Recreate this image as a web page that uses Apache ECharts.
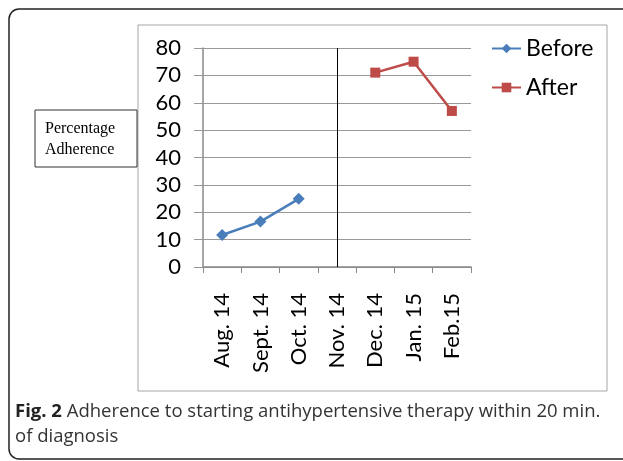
<!DOCTYPE html>
<html>
<head>
<meta charset="utf-8">
<script src="https://cdn.jsdelivr.net/npm/echarts@6/dist/echarts.min.js"></script>
<style>
  html, body { margin: 0; padding: 0; background: #fff; }
  #chart { width: 623px; height: 461px; }
</style>
</head>
<body>
<div id="chart"></div>
<script>
const months = ['Aug. 14', 'Sept. 14', 'Oct. 14', 'Nov. 14', 'Dec. 14', 'Jan. 15', 'Feb.15'];
const before = [11.7, 16.6, 24.9, null, null, null, null];
const after = [null, null, null, null, 71, 75, 57];
const yTicks = [0, 80, 10]; // min, max, step
const dividerMonth = 'Nov. 14';

const chart = echarts.init(document.getElementById('chart'));

const option = {
    animation: false,
    textStyle: { fontFamily: 'Lato, sans-serif' },
    graphic: [
        // outer rounded frame
        { type: 'rect', z: -10, shape: { x: 9, y: 9, width: 700, height: 450, r: 10 },
          style: { fill: 'none', stroke: '#222', lineWidth: 1.5 } },
        // chart area box
        { type: 'rect', z: -9, shape: { x: 138, y: 25, width: 469, height: 366 },
          style: { fill: '#fff', stroke: '#a6a6a6', lineWidth: 1 } },
        // axis title box
        { type: 'rect', shape: { x: 35, y: 110, width: 102, height: 57 },
          style: { fill: '#fff', stroke: '#333', lineWidth: 1 } },
        { type: 'text', left: 45, top: 118,
          style: { text: 'Percentage\nAdherence', font: '16px "Liberation Serif", serif', fill: '#000', lineHeight: 21 } },
        // caption
        { type: 'text', left: 15, top: 399,
          style: {
              text: '{b|Fig. 2} Adherence to starting antihypertensive therapy within 20 min.\nof diagnosis',
              font: '18.5px "Open Sans", sans-serif', fill: '#333', lineHeight: 25,
              rich: { b: { fontWeight: 'bold', fontSize: 18.5, fontFamily: 'Open Sans', fill: '#222' } }
          } }
    ],
    legend: {
        orient: 'vertical',
        left: 486,
        top: 32,
        itemWidth: 29,
        itemHeight: 12,
        itemGap: 16,
        textStyle: { fontSize: 23, color: '#000', fontFamily: 'Lato, sans-serif' },
        data: ['Before', 'After']
    },
    grid: { left: 203, top: 48, right: 152, bottom: 194, containLabel: false },
    xAxis: {
        type: 'category',
        data: months,
        boundaryGap: true,
        axisLine: { lineStyle: { color: '#888', width: 1.5 } },
        axisTick: { show: true, length: 6, interval: 0, lineStyle: { color: '#888' } },
        axisLabel: { interval: 0, rotate: 90, margin: 26, fontSize: 22, color: '#000' }
    },
    yAxis: {
        type: 'value',
        min: yTicks[0],
        max: yTicks[1],
        interval: yTicks[2],
        axisLine: { show: true, lineStyle: { color: '#888', width: 1.5 } },
        axisTick: { show: true, length: 9, lineStyle: { color: '#999' } },
        splitLine: { lineStyle: { color: '#999', width: 1 } },
        axisLabel: { fontSize: 22, color: '#000', margin: 22 }
    },
    series: [
        {
            name: 'Before',
            type: 'line',
            data: before,
            symbol: 'diamond',
            symbolSize: 12,
            itemStyle: { color: '#4a7ebb' },
            lineStyle: { color: '#4a7ebb', width: 2.5 },
            markLine: {
                silent: true,
                symbol: 'none',
                label: { show: false },
                lineStyle: { color: '#000', width: 1, type: 'solid' },
                data: [{ xAxis: dividerMonth }]
            }
        },
        {
            name: 'After',
            type: 'line',
            data: after,
            symbol: 'rect',
            symbolSize: 10,
            itemStyle: { color: '#be4b48' },
            lineStyle: { color: '#be4b48', width: 2.5 }
        }
    ]
};

chart.setOption(option);
</script>
</body>
</html>
